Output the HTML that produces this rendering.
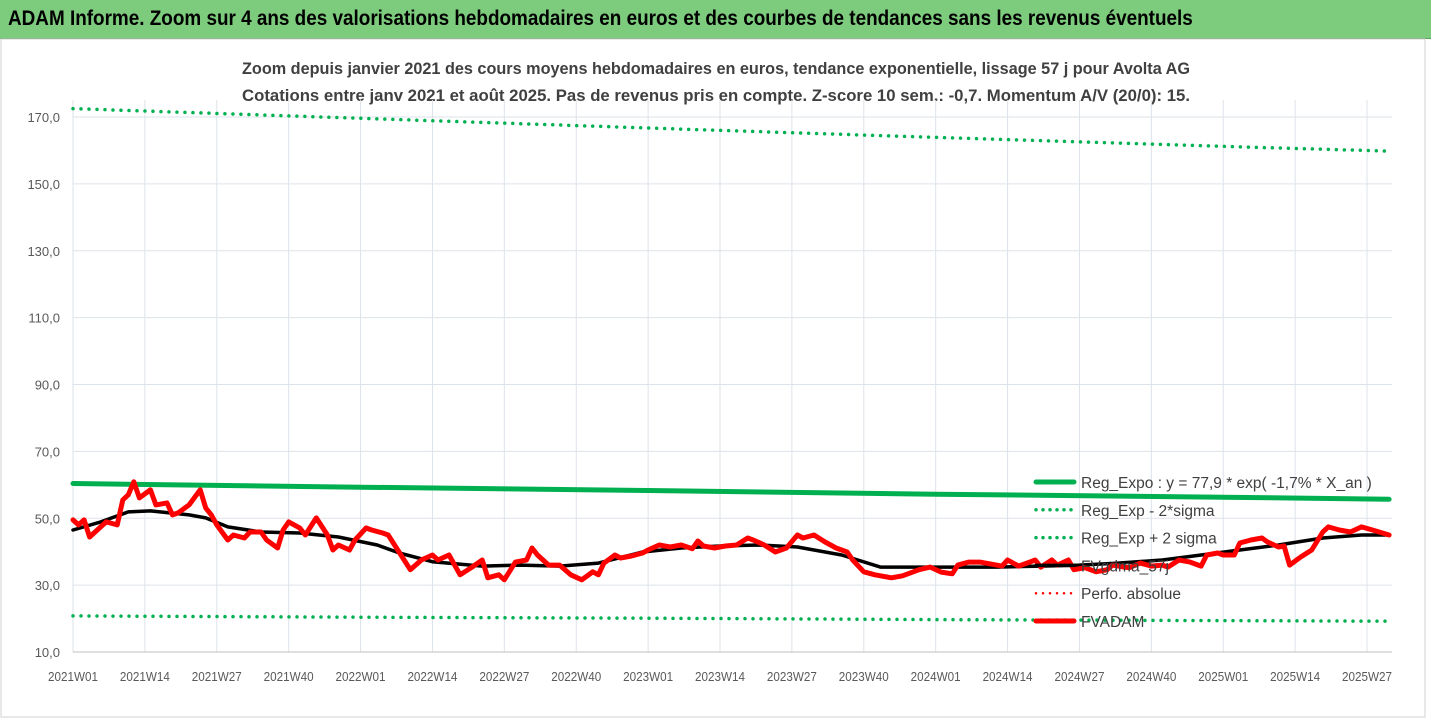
<!DOCTYPE html>
<html><head><meta charset="utf-8">
<style>
body{margin:0;background:#fff;font-family:"Liberation Sans",sans-serif}
#wrap{position:relative;width:1431px;height:720px;overflow:hidden;background:#fff}
#bar{position:absolute;left:0;top:0;width:1431px;height:38px;background:#7dcb7d;border-bottom:1px solid #5aa55a}
#bar span{position:absolute;left:8px;top:7px;font-size:21px;font-weight:bold;color:#000;transform:scaleX(0.9);transform-origin:left;white-space:nowrap}
</style></head><body>
<div id="wrap">
<div id="bar"><span>ADAM Informe. Zoom sur 4 ans des valorisations hebdomadaires en euros et des courbes de tendances sans les revenus éventuels</span></div>
<svg id="chart" width="1431" height="720" style="position:absolute;left:0;top:0"></svg>
</div>
<script>
const tickLabels=["2021W01","2021W14","2021W27","2021W40","2022W01","2022W14","2022W27","2022W40","2023W01","2023W14","2023W27","2023W40","2024W01","2024W14","2024W27","2024W40","2025W01","2025W14","2025W27"];
const yTicks=[10,30,50,70,90,110,130,150,170];
const priceWeeks=[0,1,2,3,5,6,8,9,10,11,12,14,15,17,18,19,21,23,24,25,26,28,29,31,32,34,35,37,38,39,41,42,44,46,47,48,50,51,53,54,56,57,61,63,65,66,68,70,72,74,75,77,78,80,82,83,84,86,88,90,92,94,95,96,98,99,101,103,104,106,108,110,112,113,114,116,118,120,122,123,125,127,129,131,132,134,136,138,140,141,143,145,146,148,150,151,153,155,157,159,160,162,164,166,168,169,171,173,174,175,177,178,180,181,183,185,187,188,190,191,193,195,197,198,200,202,204,205,207,208,210,211,213,215,216,218,219,220,222,224,226,227,229,231,233,235,238];
const priceValues=[49.5,48.0,49.5,44.4,47.4,48.9,48.0,55.5,57.0,60.9,56.1,58.5,54.0,54.6,51.0,51.6,54.0,58.5,53.1,51.0,48.0,43.5,45.0,44.1,45.9,45.9,43.5,41.1,46.5,48.9,47.1,45.0,50.1,45.0,40.5,42.0,40.5,43.5,47.1,46.5,45.6,45.0,34.6,37.5,39.0,37.5,39.0,33.1,35.2,37.5,32.2,33.1,31.6,36.9,37.5,41.1,39.0,36.0,36.0,33.1,31.6,34.0,33.1,36.6,39.0,38.1,38.7,39.6,40.5,42.0,41.4,42.0,40.9,43.2,41.7,41.1,41.7,42.0,44.1,43.5,42.0,39.9,41.1,45.0,44.1,45.0,42.9,41.1,39.9,37.5,34.0,33.1,32.8,32.2,32.8,33.4,34.6,35.4,33.9,33.4,36.0,36.9,36.9,36.3,35.7,37.5,35.7,36.9,37.5,35.4,37.5,36.0,37.5,34.6,35.2,34.0,34.6,36.0,35.4,35.2,36.6,35.7,36.0,35.4,37.5,36.9,35.7,39.0,39.6,39.0,39.0,42.6,43.5,44.1,42.9,41.4,41.7,36.0,38.4,40.5,45.9,47.4,46.5,45.9,47.4,46.5,45.0];
const smaWeeks=[0,5,10,14,21,24,28,34,41,48,55,59,65,74,81,88,95,103,110,117,124,131,139,146,153,160,167,175,182,189,197,204,211,218,226,233,238];
const smaValues=[46.5,48.9,51.9,52.2,51.0,50.1,47.4,45.9,45.6,44.4,42.0,39.6,37.0,35.7,36.0,35.7,36.6,39.9,41.1,41.7,42.0,41.4,39.0,35.4,35.4,35.4,35.4,35.7,36.0,36.6,37.5,39.0,40.5,42.0,44.1,45.0,45.0];
const trendWeeks=[0,52,104,156,208,238];
const regValues=[60.4,59.3,58.3,57.2,56.3,55.7];
const upperValues=[172.5,169.6,166.7,163.9,161.2,159.8];
const lowerValues=[20.8,20.4,20.1,19.7,19.4,19.2];

const svg=document.getElementById('chart');const NS='http://www.w3.org/2000/svg';
const x0=73,pxw=5.53,yTop=117,yBot=652,vTop=170,vBot=10;
const X=w=>x0+w*pxw;const Y=v=>yBot-(v-vBot)*(yBot-yTop)/(vTop-vBot);
function el(t,a,p){const e=document.createElementNS(NS,t);for(const k in a)e.setAttribute(k,a[k]);(p||svg).appendChild(e);return e;}
const fr=el('rect',{x:1,y:39,width:1424,height:678,fill:'none',stroke:'#d0d0d0'});

const t1=el('text',{x:716,y:74,'text-anchor':'middle','font-size':'16.5','font-weight':'bold',fill:'#404040',textLength:948,lengthAdjust:'spacingAndGlyphs'});

t1.textContent='Zoom depuis janvier 2021 des cours moyens hebdomadaires en euros, tendance exponentielle, lissage 57 j pour Avolta AG';
const t2=el('text',{x:716,y:101,'text-anchor':'middle','font-size':'16.5','font-weight':'bold',fill:'#404040',textLength:948,lengthAdjust:'spacingAndGlyphs'});

t2.textContent='Cotations entre janv 2021 et août 2025. Pas de revenus pris en compte. Z-score 10 sem.: -0,7. Momentum A/V (20/0): 15.';
yTicks.forEach(v=>{const g=el('line',{x1:x0,x2:1392,y1:Y(v),y2:Y(v),stroke:'#dde3ea'});

const t=el('text',{x:60,y:Y(v)+5,'text-anchor':'end','font-size':'13',fill:'#595959'});

t.textContent=v.toFixed(1).replace('.',',');});
tickLabels.forEach((l,i)=>{const xx=X(i*13);const g=el('line',{x1:xx,x2:xx,y1:100,y2:yBot,stroke:'#dde3ea'});

const t=el('text',{x:xx,y:681,'text-anchor':'middle','font-size':'12.5',fill:'#595959',textLength:50,lengthAdjust:'spacingAndGlyphs'});
t.textContent=l;});
const ax=el('line',{x1:x0,x2:1392,y1:yBot,y2:yBot,stroke:'#bfbfbf'});

function pts(ws,vs){return ws.map((w,i)=>X(w).toFixed(1)+','+Y(vs[i]).toFixed(1)).join(' ');}
function line(ws,vs,attrs,name){const p=el('polyline',Object.assign({points:pts(ws,vs),fill:'none','stroke-linejoin':'round','stroke-linecap':'round'},attrs));
}
line(trendWeeks,upperValues,{stroke:'#00b050','stroke-width':3.5,'stroke-dasharray':'0 8'},'reg-exp-plus-2-sigma');
line(trendWeeks,lowerValues,{stroke:'#00b050','stroke-width':3.5,'stroke-dasharray':'0 8'},'reg-exp-minus-2-sigma');
line(trendWeeks,regValues,{stroke:'#00b050','stroke-width':5},'reg-expo-line');
line(smaWeeks,smaValues,{stroke:'#000','stroke-width':3.5},'fv-gdma-57j-line');
line(priceWeeks,priceValues,{stroke:'#ff0000','stroke-width':5},'fvadam-line');
const leg=[['Reg_Expo : y = 77,9 * exp( -1,7% *  X_an )','#00b050','solid',5],['Reg_Exp - 2*sigma','#00b050','dot',3.5],['Reg_Exp + 2 sigma','#00b050','dot',3.5],['FVgdma_57j','#000','solid',3.5],['Perfo. absolue','#ff0000','dot',2.5],['FVADAM','#ff0000','solid',5]];
leg.forEach((e,i)=>{const y=482+i*27.8;const g=el('g',{});

el('line',{x1:1036,x2:1074,y1:y,y2:y,stroke:e[1],'stroke-width':e[3],'stroke-linecap':'round','stroke-dasharray':e[2]=='dot'?'0 7':'none'},g);
const t=el('text',{x:1081,y:y+6,'font-size':'15.5',fill:'#404040'},g);t.textContent=e[0];});
</script>
</body></html>
